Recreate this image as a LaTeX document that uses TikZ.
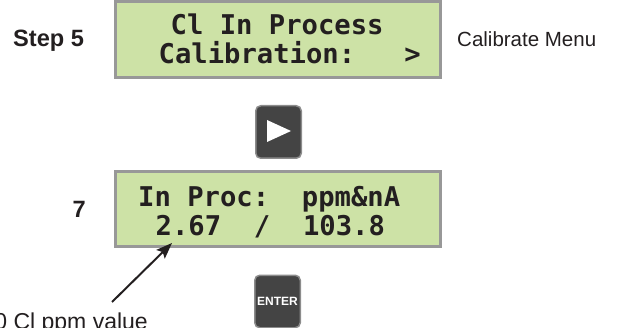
\documentclass[tikz,border=0pt]{standalone}
\usepackage{fontspec}
\setmainfont{Liberation Sans}
\newfontfamily\lcdfont{DejaVu Sans Mono}
\usetikzlibrary{arrows.meta}
\definecolor{lcdgreen}{RGB}{205,226,166}
\definecolor{lcdframe}{RGB}{152,152,152}
\definecolor{keygray}{RGB}{68,68,68}
\definecolor{keyedge}{RGB}{140,140,140}
\definecolor{inkblack}{RGB}{35,31,32}
\begin{document}
\begin{tikzpicture}[x=1pt,y=-1pt,
  lcd/.style={draw=lcdframe,line width=3pt,fill=lcdgreen,minimum width=325pt,inner sep=0pt},
  lcdtext/.style={anchor=base west,inner sep=0pt,text=inkblack,
    font=\lcdfont\bfseries\fontsize{27.2}{27.2}\selectfont},
  keybox/.style={draw=keyedge,line width=1.5pt,fill=keygray,rounded corners=5pt,
    minimum width=45.5pt,minimum height=52.5pt,inner sep=0pt},
  steplabel/.style={inner sep=0pt,text=inkblack,font=\bfseries\fontsize{23.6}{24}\selectfont},
  note/.style={inner sep=0pt,text=inkblack,font=\fontsize{20.5}{21}\selectfont},
  pointer/.style={line width=2pt,draw=inkblack,-{Stealth[length=16pt,width=12pt,inset=3pt]}}]
  % frame of the picture
  \clip (0,0) rectangle (617,328);
  % step 5: calibrate menu
  \node[lcd,minimum height=76pt] (lcdtop) at (278,39.5) {};
  \node[lcdtext] (topline1) at (170.5,35) {Cl In Process};
  \node[lcdtext] (topline2) at (158.5,63.5) {Calibration:~~~>};
  \node[steplabel,anchor=base west] (step5) at (13,47) {Step 5};
  \node[note,anchor=base west] (calmenu) at (457,47) {Calibrate Menu};
  % right key
  \node[keybox] (rightkey) at (278.5,132) {};
  \fill[white] (267,120) -- (291,131) -- (267,142) -- cycle;
  % step 7: in process reading
  \node[lcd,minimum height=75pt] (lcdbot) at (278,209) {};
  \node[lcdtext] (botline1) at (138,207) {In Proc:~~ppm\&nA};
  \node[lcdtext] (botline2) at (155.5,235.5) {2.67~~/~~103.8};
  \node[steplabel,anchor=base east] (step7) at (86,218) {7};
  % enter key
  \node[keybox,text=white,font=\bfseries\fontsize{12}{12}\selectfont] (enterkey) at (277.5,301.5) {ENTER};
  % pointer to ppm value
  \node[note,font=\fontsize{23}{23}\selectfont,anchor=base east] (ppmlabel) at (148,329) {0 Cl ppm value};
  \coordinate (tail) at (112,302);
  \coordinate (tip) at (172,243);
  \draw[pointer] (tail) -- (tip);
\end{tikzpicture}
\end{document}
